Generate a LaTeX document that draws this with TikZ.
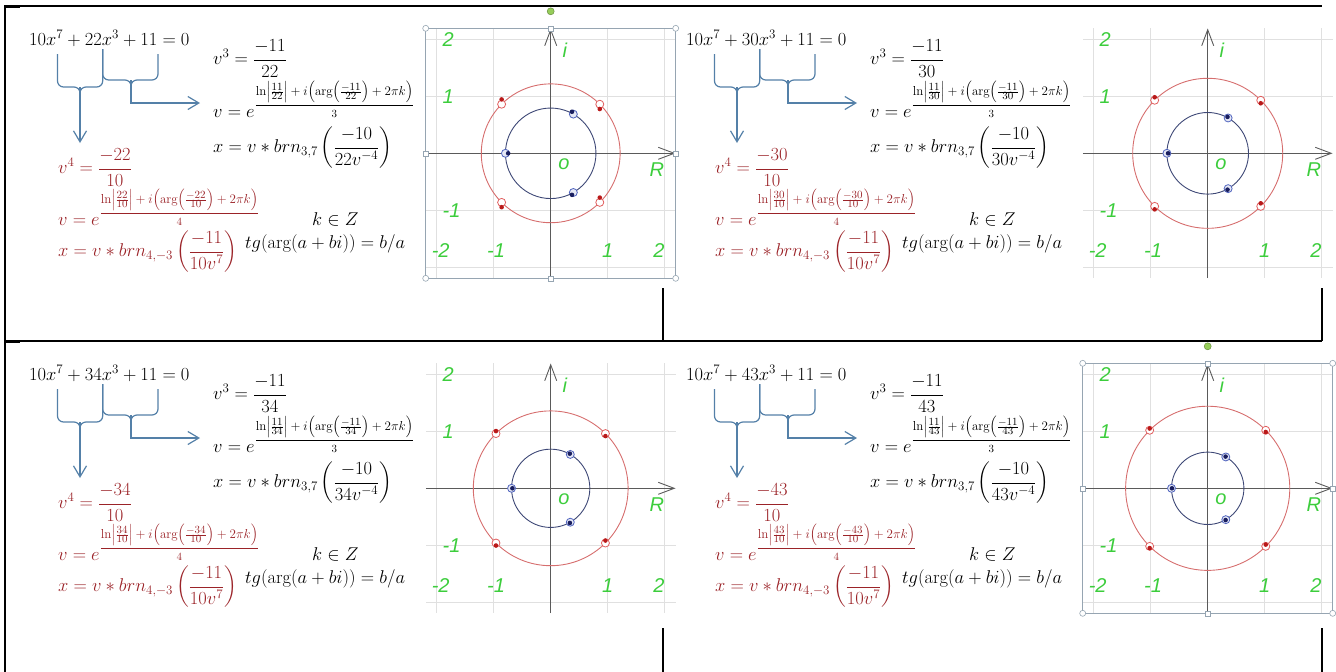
\documentclass[tikz,border=0pt]{standalone}
\usepackage{fix-cm}
\usepackage{amsmath}
\usepackage{fontspec}
\newfontfamily\plotfont{Liberation Sans}
\usepackage{xcolor}
\usetikzlibrary{arrows.meta}

\definecolor{eqred}{RGB}{155,35,40}
\definecolor{bracecol}{RGB}{84,128,168}
\definecolor{gridcol}{RGB}{224,224,224}
\definecolor{axiscol}{RGB}{90,90,90}
\definecolor{labelgreen}{RGB}{60,205,60}
\definecolor{rootred}{RGB}{214,110,110}
\definecolor{rootblue}{RGB}{62,72,118}
\definecolor{ringred}{RGB}{225,95,95}
\definecolor{dotred}{RGB}{185,25,25}
\definecolor{ringblue}{RGB}{80,100,190}
\definecolor{dotblue}{RGB}{25,30,95}
\definecolor{handlecol}{RGB}{150,165,178}
\definecolor{handlegreen}{RGB}{150,205,90}

\DeclareMathSizes{13}{13}{11}{9}
% exponent of v = e^{...}, raised by hand
\newcommand{\vexp}[4]{e\raisebox{8.5pt}{\fontsize{13}{15}\selectfont$\dfrac{\ln\Bigl|\frac{#1}{#2}\Bigr|+i\Bigl(\mathrm{arg}\Bigl(\frac{#3}{#2}\Bigr)+2\pi k\Bigr)}{\scriptstyle #4}$}}

\begin{document}
\begin{tikzpicture}[x=1pt, y=-1pt,
    eq/.style={anchor=base west, inner sep=0pt, font=\fontsize{18.5}{22}\selectfont},
    redeq/.style={eq, text=eqred},
    brace/.style={draw=bracecol, line width=1.2pt, rounded corners=6pt},
    arrow/.style={draw=bracecol, line width=1.2pt, -{Straight Barb[length=11pt, width=13pt]}},
    tableline/.style={line width=1.6pt},
    gridline/.style={draw=gridcol, line width=0.8pt},
    axis/.style={draw=axiscol, line width=0.9pt, -{Straight Barb[length=16pt, width=12pt]}},
    num/.style={font=\plotfont\itshape\fontsize{20}{20}\selectfont, text=labelgreen, inner sep=0pt},
    ring/.style={line width=0.8pt},
    seldot/.style={draw=handlecol, fill=white, line width=0.6pt},
]
\useasboundingbox (0,0) rectangle (1336,672);

% Table lines
\draw[tableline] (5,6) -- (1322,6);
\draw[tableline] (5,6) -- (5,672);
\draw[tableline] (5,341) -- (1322,341);
\draw[tableline] (663,288) -- (663,341);
\draw[tableline] (1322,288) -- (1322,341);
\draw[tableline] (663,628) -- (663,672);
\draw[tableline] (1322,628) -- (1322,672);
\draw[line width=3pt] (4,6) -- (20,6);
\draw[line width=3pt] (4,341) -- (20,341);

% One panel per coefficient
\foreach \coef/\ox/\oy in {22/0/0, 30/657/0, 34/0/335, 43/657/335} {
  \begin{scope}[shift={(\ox,\oy)}]
    % Equation and the two reductions
    \node[eq] (poly\coef) at (29,45) {$10x^7+\coef x^3+11=0$};
    \node[eq] (vthree\coef) at (213,64.5) {$v^3=\dfrac{-11}{\coef}$};
    \node[eq] (vexpthree\coef) at (213,117) {$v=\vexp{11}{\coef}{-11}{3}$};
    \node[eq] (xthree\coef) at (213,152.5) {$x=v\ast brn_{3,7}\left(\dfrac{-10}{\coef v^{-4}}\right)$};
    \node[redeq] (vfour\coef) at (58,173.5) {$v^4=\dfrac{-\coef}{10}$};
    \node[redeq] (vexpfour\coef) at (58,225) {$v=\vexp{\coef}{10}{-\coef}{4}$};
    \node[redeq] (xfour\coef) at (58,256.5) {$x=v\ast brn_{4,-3}\left(\dfrac{-11}{10v^7}\right)$};
    \node[eq] (kz\coef) at (312,225) {$k\in Z$};
    \node[eq] (tg\coef) at (245,248) {$tg(\arg(a+bi))=b/a$};

    % Braces
    \coordinate (cuspA\coef) at (80,87);
    \coordinate (cuspB\coef) at (131,80);
    \coordinate (tipA\coef) at (80,143);
    \coordinate (tipB\coef) at (200,103);
    \draw[brace] (57.5,54) -- (57.5,87) -- (cuspA\coef) -- ++(0,12);
    \draw[brace] (102.7,49) -- (102.7,87) -- (cuspA\coef) -- ++(0,12);
    \draw[brace] (102.7,49) -- (102.7,80) -- (cuspB\coef) -- ++(0,12);
    \draw[brace] (158,54) -- (158,80) -- (cuspB\coef) -- ++(0,12);
    \draw[arrow] (cuspA\coef) -- (tipA\coef);
    \draw[arrow] (cuspB\coef) |- (tipB\coef);

    % Complex plane
    \begin{scope}[shift={(550.7,153.3)}, x=57pt, y=57pt]
      \pgfmathsetmacro{\rfour}{pow(\coef/10,0.25)}
      \pgfmathsetmacro{\rthree}{pow(11/\coef,1/3)}
      \pgfmathsetmacro{\dl}{11/(4*\coef*\rfour*\rfour)}
      \pgfmathsetmacro{\ds}{10*pow(\rthree,5)/(3*\coef)}
      \coordinate (o\coef) at (0,0);
      \foreach \k in {-2,-1,1,2} {
        \draw[gridline] (\k,-2.19) -- (\k,2.19);
        \draw[gridline] (-2.19,\k) -- (2.19,\k);
      }
      \draw[axis] (-2.19,0) -- (2.19,0);
      \draw[axis] (0,-2.19) -- (0,2.19);
      \draw[rootred, line width=0.9pt] (0,0) circle[radius=\rfour];
      \draw[rootblue, line width=0.9pt] (0,0) circle[radius=\rthree];
      \foreach \a in {45,135,225,315} {
        \draw[ring, draw=ringred, fill=white] (\a:\rfour) circle[radius=4pt];
        \fill[dotred] ({\rfour*cos(\a)+\dl*cos(-2*\a)}, {\rfour*sin(\a)+\dl*sin(-2*\a)}) circle[radius=2.3pt];
      }
      \foreach \a in {60,180,300} {
        \draw[ring, draw=ringblue, fill=ringblue!15] (\a:\rthree) circle[radius=4pt];
        \fill[dotblue] ({\rthree*cos(\a)-\ds*cos(5*\a)}, {\rthree*sin(\a)-\ds*sin(5*\a)}) circle[radius=2.3pt];
      }
      \node[num, anchor=west] (ytwo\coef) at (-1.9,2) {2};
      \node[num, anchor=west] (yone\coef) at (-1.9,1) {1};
      \node[num, anchor=west] (ymone\coef) at (-1.9,-1) {-1};
      \node[num] (xmtwo\coef) at (-1.93,-1.7) {-2};
      \node[num] (xmone\coef) at (-0.96,-1.7) {-1};
      \node[num] (xone\coef) at (1.0,-1.7) {1};
      \node[num] (xtwo\coef) at (1.9,-1.7) {2};
      \node[num] (imag\coef) at (0.25,1.81) {i};
      \node[num] (real\coef) at (1.86,-0.29) {R};
      \node[num] (orig\coef) at (0.23,-0.19) {o};
    \end{scope}
  \end{scope}
}

% Selection frames of the first and last plot
\foreach \p in {22,43} {
  \begin{scope}[shift={(o\p)}]
    \draw[handlecol, line width=0.8pt] (-125,-125) rectangle (125,125);
    \foreach \hx/\hy in {-125/-125, 125/-125, -125/125, 125/125}
      \draw[seldot] (\hx,\hy) circle[radius=3pt];
    \foreach \hx/\hy in {0/-125, 0/125, -125/0, 125/0}
      \draw[seldot] (\hx-2.5,\hy-2.5) rectangle ++(5,5);
    \draw[fill=handlegreen, draw=handlegreen!70!black, line width=0.5pt] (0,-142) circle[radius=3.5pt];
  \end{scope}
}
\end{tikzpicture}
\end{document}
